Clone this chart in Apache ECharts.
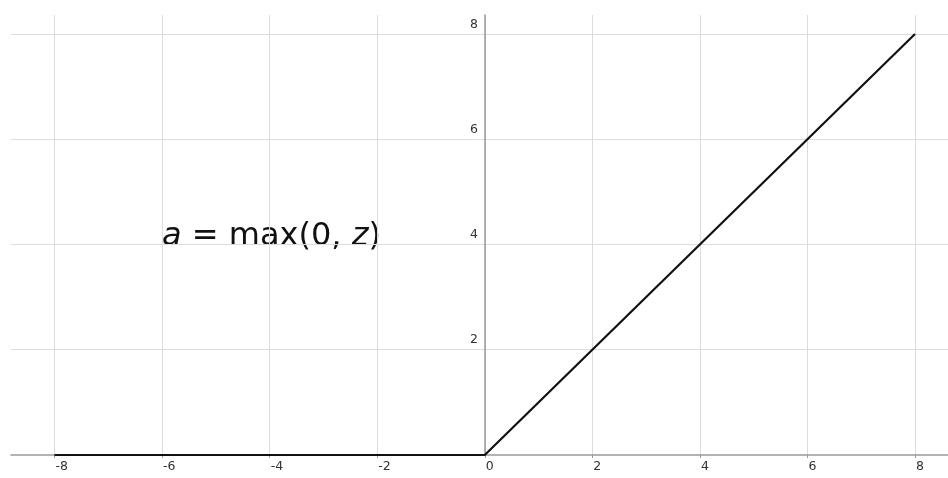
<!DOCTYPE html>
<html>
<head>
<meta charset="utf-8">
<script src="https://cdn.jsdelivr.net/npm/echarts@6/dist/echarts.min.js"></script>
<style>
  html, body { margin: 0; padding: 0; background: #fff; }
  #chart { width: 948px; height: 478px; }
</style>
</head>
<body>
<div id="chart"></div>
<script>
// ReLU: a = max(0, z)
var zValues = [-8, 0, 8]
var aValues = [0, 0, 8]
var xTicks = [-8, -6, -4, -2, 0, 2, 4, 6, 8]
var yTicks = [2, 4, 6, 8]

var chart = echarts.init(document.getElementById('chart'))

var lineData = zValues.map(function (z, i) { return [z, aValues[i]] })

var hidden = { show: false }

chart.setOption({
  animation: false,
  backgroundColor: '#fff',
  grid: [
    // wide grid: horizontal grid lines + x axis line
    { left: 11, right: 0, top: 15, bottom: 23, outerBoundsMode: 'none', containLabel: false },
    // tick grid: vertical grid lines, x labels, the curve
    { left: 54.5, right: 33, top: 15, bottom: 23, outerBoundsMode: 'none', containLabel: false },
    // right half: y axis line and its labels sit on its left edge (z = 0)
    { left: 485, right: 0, top: 15, bottom: 23, outerBoundsMode: 'none', containLabel: false }
  ],
  xAxis: [
    {
      gridIndex: 0,
      type: 'value',
      min: -8.81,
      max: 8.614,
      axisLine: { show: true, onZero: false, lineStyle: { color: '#9a9a9a', width: 1.5 } },
      axisTick: hidden,
      axisLabel: hidden,
      splitLine: hidden
    },
    {
      gridIndex: 1,
      type: 'value',
      min: -8,
      max: 8,
      interval: 2,
      axisLine: hidden,
      axisTick: { show: true, length: 3, lineStyle: { color: '#9a9a9a' } },
      axisLabel: {
        show: true,
        align: 'left',
        margin: 5,
        padding: [0, 0, 0, 1],
        fontFamily: 'DejaVu Sans',
        fontSize: 12.5,
        color: '#333',
        formatter: function (v) { return xTicks.indexOf(v) >= 0 ? String(v) : '' }
      },
      splitLine: { show: true, lineStyle: { color: '#dcdcdc', width: 1 } }
    },
    {
      gridIndex: 2,
      type: 'value',
      min: 0,
      max: 8.614,
      show: false
    }
  ],
  yAxis: [
    {
      gridIndex: 0,
      type: 'value',
      min: 0,
      max: 8.361,
      interval: 2,
      axisLine: hidden,
      axisTick: hidden,
      axisLabel: hidden,
      splitLine: { show: true, showMinLine: false, showMaxLine: false, lineStyle: { color: '#dcdcdc', width: 1 } }
    },
    {
      gridIndex: 1,
      type: 'value',
      min: 0,
      max: 8.361,
      show: false
    },
    {
      gridIndex: 2,
      type: 'value',
      min: 0,
      max: 8.361,
      interval: 2,
      axisLine: { show: true, onZero: false, lineStyle: { color: '#9a9a9a', width: 1.5 } },
      axisTick: hidden,
      axisLabel: {
        show: true,
        margin: 7,
        verticalAlign: 'bottom',
        padding: [0, 0, 3, 0],
        fontFamily: 'DejaVu Sans',
        fontSize: 12.5,
        color: '#333',
        formatter: function (v) { return yTicks.indexOf(v) >= 0 ? String(v) : '' }
      },
      splitLine: hidden
    }
  ],
  graphic: [
    {
      type: 'text',
      left: 162,
      top: 221,
      style: {
        text: '{i|a} = max(0, {i|z})',
        fontFamily: 'DejaVu Sans',
        fontSize: 32,
        fill: '#111',
        rich: {
          i: { fontStyle: 'italic', fontFamily: 'DejaVu Sans', fontSize: 32, color: '#111' }
        }
      }
    }
  ],
  series: [
    {
      type: 'line',
      xAxisIndex: 1,
      yAxisIndex: 1,
      data: lineData,
      showSymbol: false,
      symbol: 'none',
      clip: false,
      z: 5,
      lineStyle: { color: '#111', width: 2.2 }
    }
  ]
})
</script>
</body>
</html>
